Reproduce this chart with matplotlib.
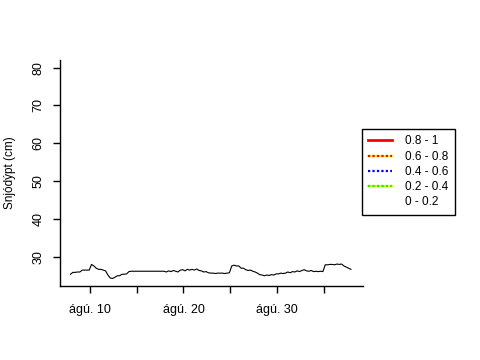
import numpy as np
import pandas as pd
import matplotlib
matplotlib.use("Agg")
import matplotlib.pyplot as plt
import matplotlib.dates as mdates
from matplotlib.lines import Line2D
from matplotlib.legend_handler import HandlerTuple

plt.rcParams['font.family'] = ['Liberation Sans', 'DejaVu Sans']

# snow depth, every 6 hours from Aug 8 to Sep 7
depth = [
    25.4, 25.9, 25.9, 26.0,   # 8
    26.0, 26.5, 26.5, 26.5,   # 9
    26.5, 28.0, 27.6, 27.0,   # 10
    26.7, 26.7, 26.5, 26.3,   # 11
    25.2, 24.4, 24.3, 24.6,   # 12
    25.0, 25.0, 25.4, 25.4,   # 13
    25.5, 26.1, 26.2, 26.2,   # 14
    26.2, 26.2, 26.2, 26.2,   # 15
    26.2, 26.2, 26.2, 26.2,   # 16
    26.2, 26.2, 26.2, 26.2,   # 17
    26.2, 26.0, 26.3, 26.1,   # 18
    26.4, 26.2, 26.0, 26.5,   # 19
    26.6, 26.3, 26.7, 26.5,   # 20
    26.7, 26.5, 26.8, 26.4,   # 21
    26.3, 26.0, 26.1, 25.8,   # 22
    25.7, 25.7, 25.6, 25.7,   # 23
    25.7, 25.7, 25.6, 25.7,   # 24
    25.8, 27.6, 27.8, 27.6,   # 25
    27.6, 27.0, 27.0, 26.6,   # 26
    26.4, 26.5, 26.2, 26.0,   # 27
    25.7, 25.3, 25.2, 25.0,   # 28
    25.2, 25.1, 25.3, 25.2,   # 29
    25.5, 25.5, 25.7, 25.6,   # 30
    25.7, 26.0, 25.8, 26.1,   # 31
    26.0, 26.3, 26.1, 26.4,   # Sep 1
    26.6, 26.3, 26.2, 26.4,   # 2
    26.1, 26.2, 26.1, 26.2,   # 3
    26.1, 27.9, 27.9, 28.0,   # 4
    28.0, 27.9, 28.1, 28.0,   # 5
    28.1, 27.6, 27.3, 27.0,   # 6
    26.7,                     # 7
]
times = pd.date_range("2010-08-07 22:00", periods=len(depth), freq="6h")

legend_labels = ["0.8 - 1", "0.6 - 0.8", "0.4 - 0.6", "0.2 - 0.4", "0 - 0.2"]

fig = plt.figure(figsize=(4.8, 3.6), dpi=100)
ax = fig.add_axes([60/480, 1-286/360, 303/480, 226/360])

ax.plot(times, depth, color='black', lw=0.8)

ax.set_xlim(pd.Timestamp("2010-08-06 19:00"), pd.Timestamp("2010-09-08 05:00"))
ax.set_ylim(22.3, 82)
ax.set_yticks([30, 40, 50, 60, 70, 80])
ax.xaxis.set_major_locator(mdates.DayLocator(bymonthday=[10, 15, 20, 25, 30, 4]))


def fmt(v, pos):
    d = mdates.num2date(v)
    if d.month == 8 and d.day in (10, 20, 30):
        return "ágú. %d" % d.day
    return ""


ax.xaxis.set_major_formatter(plt.FuncFormatter(fmt))

for s in ['top', 'right']:
    ax.spines[s].set_visible(False)
for s in ['left', 'bottom']:
    ax.spines[s].set_linewidth(1.0)
ax.tick_params(length=5, width=1.0, labelsize=9)
ax.tick_params(axis='x', pad=8)
ax.tick_params(axis='y', pad=6)
for lab in ax.get_yticklabels():
    lab.set_rotation(90)
    lab.set_va('center')
ax.set_ylabel("Snjódýpt (cm)", fontsize=8.5, labelpad=12)

h1 = Line2D([], [], color='red', lw=2)
h2 = (Line2D([], [], color='yellow', lw=1.6), Line2D([], [], color='red', lw=1.6, ls=(0, (1, 1))))
h3 = (Line2D([], [], color='white', lw=1.6), Line2D([], [], color='blue', lw=1.6, ls=(0, (1, 1))))
h4 = (Line2D([], [], color='yellow', lw=1.6), Line2D([], [], color='lime', lw=1.6, ls=(0, (1, 1))))
h5 = Line2D([], [], color='white', lw=2)
leg = fig.legend([h1, h2, h3, h4, h5], legend_labels, loc='upper left',
                 bbox_to_anchor=(362/480, 1-129/360), borderaxespad=0,
                 fancybox=False, edgecolor='black', framealpha=1, fontsize=8.5,
                 handler_map={tuple: HandlerTuple(ndivide=1)},
                 handlelength=2.0, handletextpad=1.1, labelspacing=0.27,
                 borderpad=0.55)
leg.get_frame().set_linewidth(1.0)

fig.savefig("out.png", dpi=100)
